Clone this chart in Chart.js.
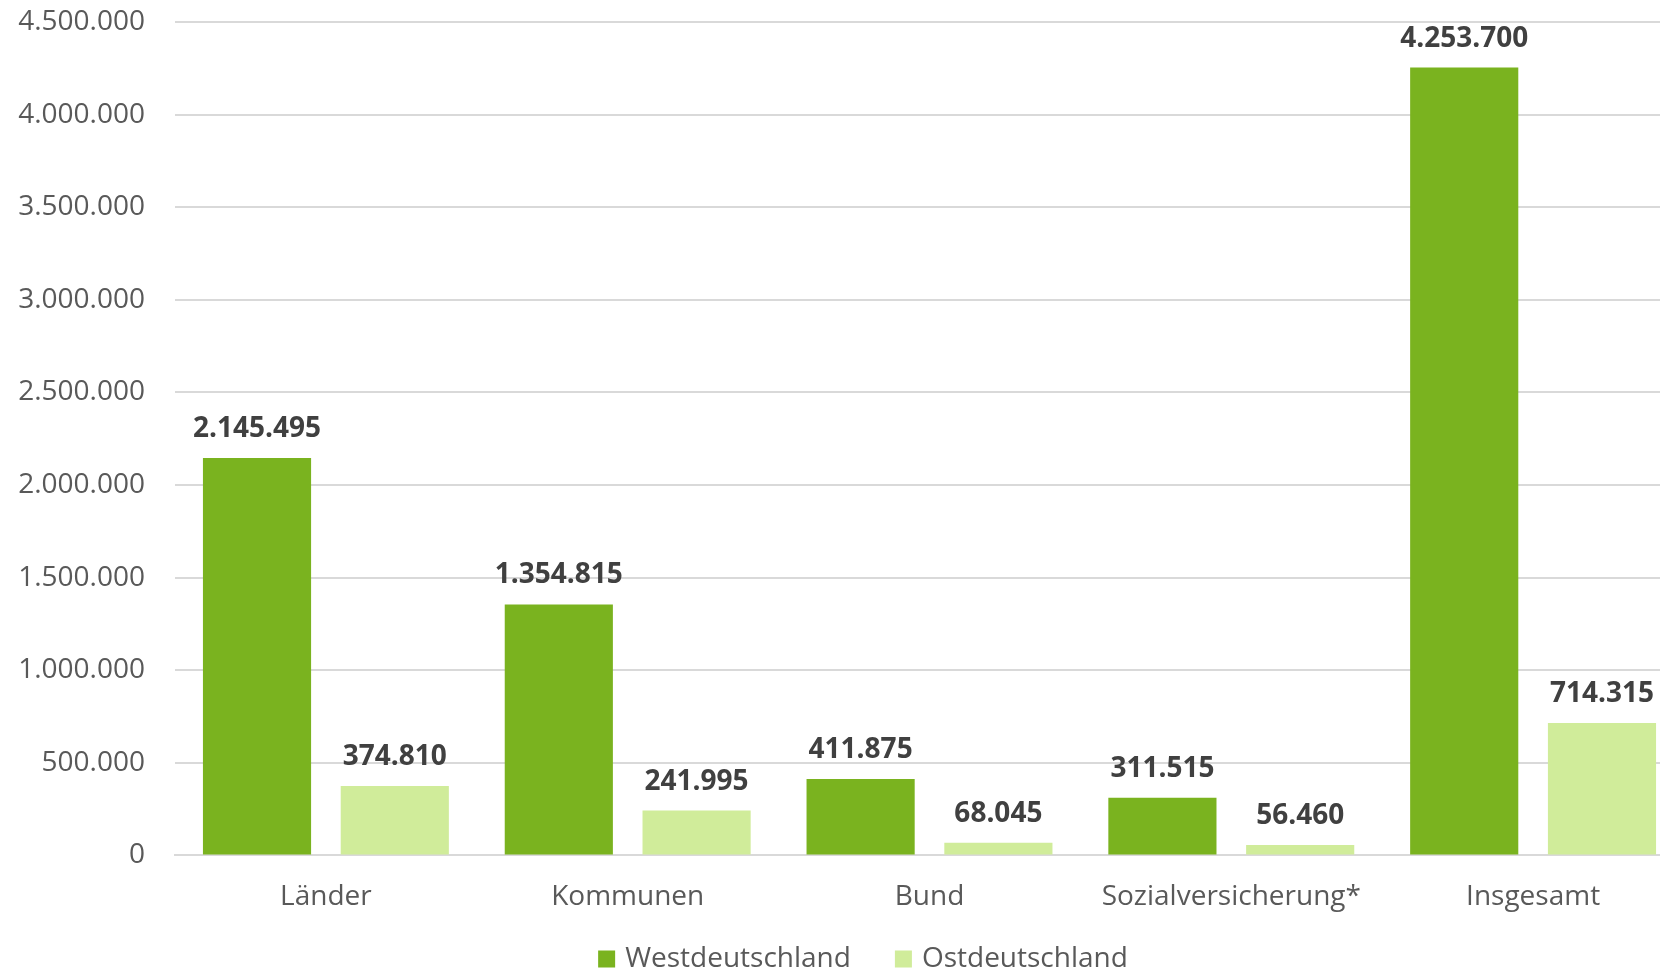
<!DOCTYPE html>
<html>
<head>
<meta charset="utf-8">
<script src="https://cdn.jsdelivr.net/npm/chart.js@4/dist/chart.umd.min.js"></script>
<style>
  html, body { margin: 0; padding: 0; background: #fff; overflow: hidden; }
  #wrap { width: 1722px; height: 973px; }
</style>
</head>
<body>
<div id="wrap"><canvas id="chart" width="1722" height="973"></canvas></div>
<script>
const categories = ["Länder", "Kommunen", "Bund", "Sozialversicherung*", "Insgesamt"];
const westValues = [2145495, 1354815, 411875, 311515, 4253700];
const ostValues = [374810, 241995, 68045, 56460, 714315];
const seriesNames = ["Westdeutschland", "Ostdeutschland"];

const textColor = "#595959";
const labelColor = "#404040";
const gridColor = "#d9d9d9";
const fontFamily = "'Open Sans', sans-serif";

function formatDe(v) {
  return String(Math.round(v)).replace(/\B(?=(\d{3})+(?!\d))/g, ".");
}

// draws the value above every bar
const valueLabels = {
  id: "valueLabels",
  afterDatasetsDraw(chart) {
    const ctx = chart.ctx;
    ctx.save();
    ctx.font = "bold 28px " + fontFamily;
    ctx.fillStyle = labelColor;
    ctx.textAlign = "center";
    ctx.textBaseline = "middle";
    chart.data.datasets.forEach((ds, i) => {
      const meta = chart.getDatasetMeta(i);
      meta.data.forEach((bar, j) => {
        ctx.fillText(formatDe(ds.data[j]), bar.x, bar.y - 29);
      });
    });
    ctx.restore();
  },
};

// legend at the bottom, centred, excel-like spacing
const bottomLegend = {
  id: "bottomLegend",
  afterDraw(chart) {
    const ctx = chart.ctx;
    const box = 17, gapText = 10, gapItem = 44;
    ctx.save();
    ctx.font = "28px " + fontFamily;
    ctx.textBaseline = "middle";
    ctx.textAlign = "left";
    const items = chart.data.datasets.map((ds) => ({
      text: ds.label,
      color: ds.backgroundColor,
      w: ctx.measureText(ds.label).width,
    }));
    let total = 0;
    items.forEach((it, i) => {
      total += box + gapText + it.w + (i ? gapItem : 0);
    });
    let x = chart.width / 2 - total / 2 + 2;
    const y = chart.height - 14;
    items.forEach((it) => {
      ctx.fillStyle = it.color;
      ctx.fillRect(x, y - box / 2, box, box);
      ctx.fillStyle = textColor;
      ctx.fillText(it.text, x + box + gapText, y);
      x += box + gapText + it.w + gapItem;
    });
    ctx.restore();
  },
};

new Chart(document.getElementById("chart").getContext("2d"), {
  type: "bar",
  data: {
    labels: categories,
    datasets: [
      {
        label: seriesNames[0],
        data: westValues,
        backgroundColor: "#7ab31f",
        categoryPercentage: 0.913,
        barPercentage: 0.785,
      },
      {
        label: seriesNames[1],
        data: ostValues,
        backgroundColor: "#d0ec9a",
        categoryPercentage: 0.913,
        barPercentage: 0.785,
      },
    ],
  },
  options: {
    responsive: false,
    animation: false,
    devicePixelRatio: 1,
    layout: { padding: { left: 0, top: 22, right: 38, bottom: 42 } },
    plugins: {
      tooltip: { enabled: false },
      legend: { display: false },
    },
    scales: {
      x: {
        grid: { display: false },
        border: { display: true, color: gridColor, width: 2 },
        ticks: {
          color: textColor,
          font: { family: fontFamily, size: 28 },
          padding: 17,
          maxRotation: 0,
        },
      },
      y: {
        min: 0,
        max: 4500000,
        afterFit(scale) {
          scale.width = 175;
          scale.paddingTop = 0;
          scale.paddingBottom = 0;
        },
        grid: { color: gridColor, lineWidth: 2, drawTicks: false },
        border: { display: false },
        ticks: {
          stepSize: 500000,
          color: textColor,
          font: { family: fontFamily, size: 28 },
          padding: 30,
          callback: (v) => formatDe(v),
        },
      },
    },
  },
  plugins: [valueLabels, bottomLegend],
});
</script>
</body>
</html>
